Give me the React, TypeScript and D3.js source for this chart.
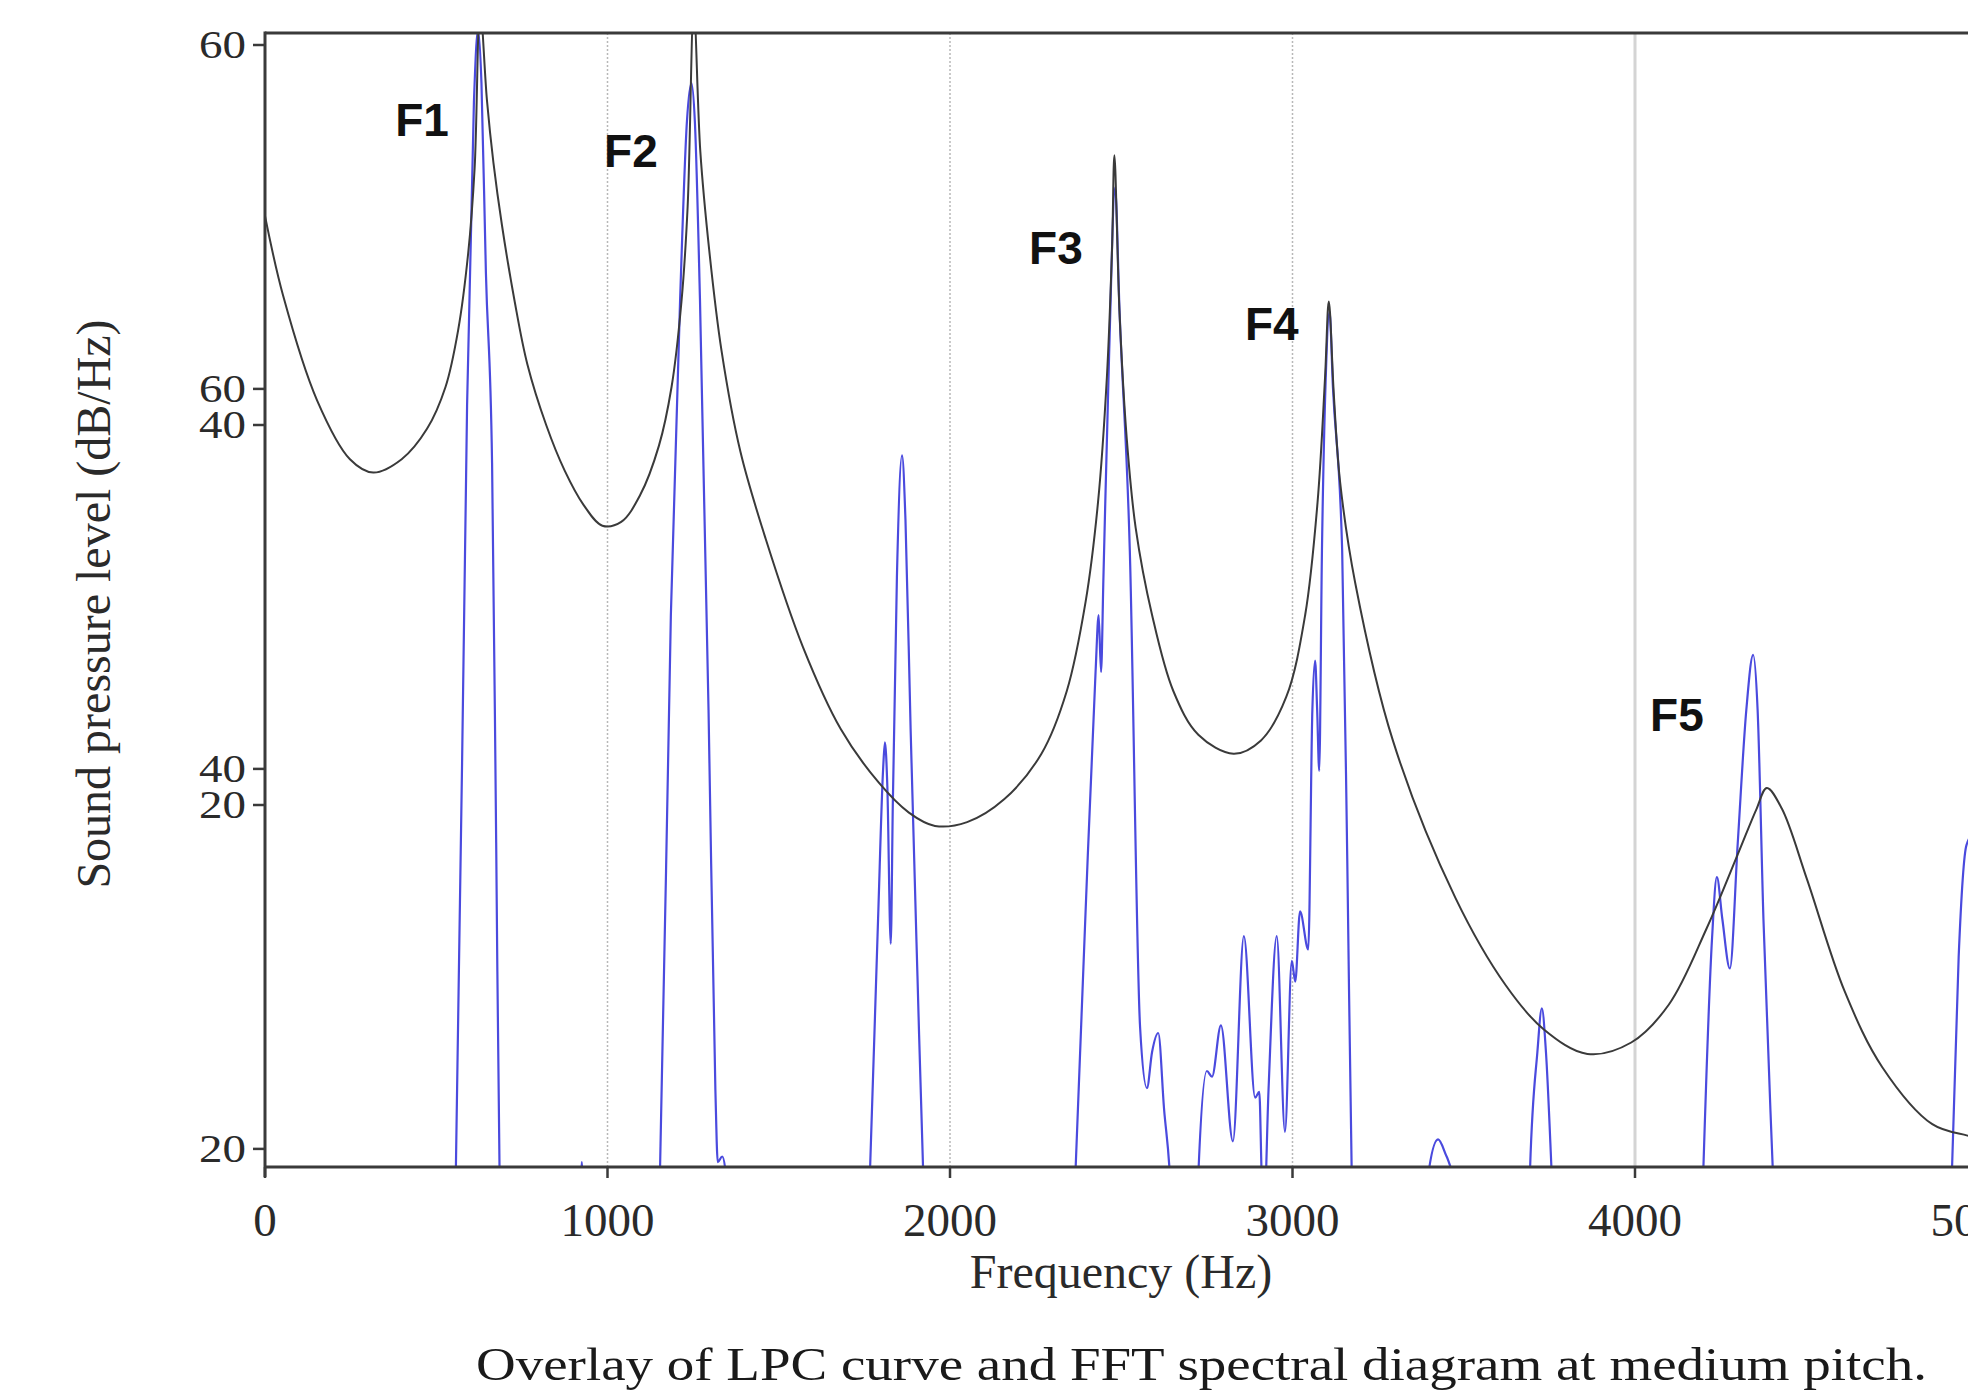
import React from 'react'
import * as d3 from 'd3'

// LPC envelope (Hz, dB)
const lpcFreq = [0, 53, 152, 248, 316, 399, 473, 527, 564, 593, 612, 628, 648, 667, 692, 729, 766, 821, 875, 930, 985, 1040, 1095, 1150, 1187, 1216, 1234, 1252, 1271, 1297, 1333, 1388, 1462, 1571, 1681, 1791, 1880, 1956, 2050, 2158, 2267, 2341, 2396, 2432, 2458, 2473, 2480, 2495, 2516, 2542, 2590, 2652, 2725, 2828, 2908, 2982, 3037, 3073, 3095, 3106, 3121, 3139, 3183, 3293, 3476, 3623, 3733, 3861, 3989, 4099, 4209, 4300, 4355, 4385, 4429, 4502, 4612, 4722, 4868, 4971, 5050]
const lpcDb = [51.0, 46.8, 41.3, 38.2, 37.5, 38.2, 39.8, 42.0, 45.0, 49.0, 53.5, 62, 57.1, 53.8, 50.5, 46.5, 43.2, 40.0, 37.6, 35.8, 34.7, 34.9, 36.3, 38.9, 42.0, 46.5, 51.5, 62, 54.4, 49.2, 43.9, 38.6, 34.0, 28.3, 24.0, 21.2, 19.6, 18.9, 19.1, 20.3, 22.7, 26.0, 30.7, 35.9, 42.5, 49.2, 54.2, 45.9, 39.3, 34.6, 30.0, 26.0, 23.7, 22.7, 23.4, 25.7, 30.0, 35.9, 42.5, 46.5, 41.5, 37.0, 31.7, 23.4, 15.1, 10.5, 8.2, 6.9, 7.5, 9.5, 13.5, 17.4, 19.8, 20.9, 19.8, 16.1, 10.2, 6.2, 3.2, 2.6, 2.3]

// FFT spectrum (Hz, dB), values below the axis are clipped
const fftFreq = [0, 540, 557, 590, 610, 622, 632, 645, 663, 675, 685, 700, 915, 925, 935, 1140, 1153, 1185, 1212, 1232, 1245, 1255, 1270, 1295, 1315, 1322, 1335, 1344, 1355, 1755, 1766, 1790, 1805, 1810, 1817, 1827, 1833, 1845, 1860, 1870, 1885, 1905, 1922, 1935, 2355, 2366, 2395, 2425, 2434, 2441, 2448, 2465, 2482, 2495, 2525, 2555, 2575, 2590, 2608, 2625, 2642, 2655, 2715, 2725, 2750, 2765, 2791, 2826, 2858, 2891, 2903, 2910, 2916, 2930, 2954, 2978, 2998, 3008, 3022, 3046, 3058, 3066, 3072, 3078, 3086, 3098, 3108, 3118, 3145, 3160, 3173, 3185, 3385, 3396, 3425, 3450, 3480, 3490, 3500, 3685, 3693, 3715, 3728, 3740, 3757, 3770, 4190, 4199, 4225, 4239, 4255, 4277, 4300, 4325, 4345, 4358, 4375, 4403, 4415, 4910, 4925, 4945, 4968, 4990, 5050]
const fftDb = [-5, -5, 0.5, 41, 57, 60.8, 58, 48, 38, 18, 0.5, -5, -5, 1.2, -5, -5, 0.5, 30, 46.6, 56, 58, 56, 46.6, 25, 5, 1.2, 1.5, 0.8, -5, -5, 0.5, 14, 22, 23.3, 21, 12.7, 20, 32, 38.4, 35, 24, 11, 0.5, -5, -5, 0.5, 14, 27, 30, 27, 32, 44, 52.5, 46, 33.4, 8.3, 5.1, 7, 8, 4, 0.5, -5, -5, 0.5, 6, 5.7, 8.4, 2.3, 13.1, 4.6, 4.9, 0.5, -2, 5, 13.1, 2.8, 11.8, 10.7, 14.4, 12.4, 25, 27.6, 25, 21.8, 33.4, 43, 46, 42, 33.4, 17, 0.5, -5, -5, 0.5, 2.4, 1.5, 0.3, 0.8, -5, -5, 0.5, 7, 9.3, 7, 0.5, -5, -5, 0.5, 13, 16.2, 14, 11.4, 18, 25, 27.9, 25, 14, 0.5, -5, -5, 0.5, 12, 17.9, 18.5, 18]

const xTicks = [0, 1000, 2000, 3000, 4000, 5000]
const gridTicks = [1000, 2000, 3000, 4000]
const yTicksA = [20, 40, 60]
const yTicksB = [20, 40, 60]
const overlayOffset = 18.1 // second overlaid panel is shifted down by this many dB

const formantLabels = ['F1', 'F2', 'F3', 'F4', 'F5']
const formantFreq = [380, 990, 2231, 2861, 4044]
const formantDb = [55.2, 53.6, 48.5, 44.5, 23.9]

const W = 1968
const H = 1391
const left = 265
const top = 33
const bottom = 1167

const serif = '"Liberation Serif", "Times New Roman", serif'
const sans = '"Liberation Sans", Arial, sans-serif'

export default function App() {
  const x = d3.scaleLinear().domain([0, 5000]).range([left, left + 5 * 342.5])
  const y = d3.scaleLinear().domain([20, 60]).range([805, 45])

  const lpcPath = d3.line<number>()
    .x(i => x(lpcFreq[i]))
    .y(i => y(lpcDb[i]))
    .curve(d3.curveCatmullRom.alpha(0.5))(lpcFreq.map((_, i) => i))

  const fftPath = d3.line<number>()
    .x(i => x(fftFreq[i]))
    .y(i => y(fftDb[i]))
    .curve(d3.curveMonotoneX)(fftFreq.map((_, i) => i))

  const tickLabel = (t: number, yy: number, key: string) => (
    <g key={key}>
      <line x1={left - 12} x2={left} y1={yy} y2={yy} stroke="#3a3a3a" strokeWidth={2.5} />
      <text transform={`translate(246,${yy + 13}) scale(1,0.86)`} textAnchor="end" fontFamily={serif} fontSize={47} fill="#2a2a2a">{t}</text>
    </g>
  )

  return (
    <svg width={W} height={H} style={{ position: 'absolute', left: 0, top: 0, background: '#fff' }}>
      <defs>
        <clipPath id="plot-clip">
          <rect x={left} y={top} width={W - left} height={bottom - top} />
        </clipPath>
      </defs>

      {gridTicks.map(t => (
        <line key={t} x1={x(t)} x2={x(t)} y1={top} y2={bottom}
          stroke={t === 4000 ? '#d4d4d4' : '#b8b8b8'}
          strokeWidth={t === 4000 ? 3 : 1.5}
          strokeDasharray={t === 4000 ? undefined : '2,2'} />
      ))}

      <g clipPath="url(#plot-clip)">
        <path d={fftPath || ''} fill="none" stroke="#4a4ade" strokeWidth={2.2} />
        <path d={lpcPath || ''} fill="none" stroke="#3a3a3a" strokeWidth={2} />
      </g>

      {/* frame */}
      <line x1={left} x2={W} y1={top} y2={top} stroke="#3a3a3a" strokeWidth={3} />
      <line x1={left} x2={W} y1={bottom} y2={bottom} stroke="#3a3a3a" strokeWidth={3} />
      <line x1={left} x2={left} y1={top - 1.5} y2={bottom + 10} stroke="#3a3a3a" strokeWidth={3} />

      {xTicks.map(t => (
        <g key={t}>
          <line x1={x(t)} x2={x(t)} y1={bottom} y2={bottom + 11} stroke="#3a3a3a" strokeWidth={2.5} />
          <text x={x(t)} y={1236} textAnchor="middle" fontFamily={serif} fontSize={47} fill="#2a2a2a">{t}</text>
        </g>
      ))}

      {yTicksA.map(t => tickLabel(t, y(t), 'a' + t))}
      {yTicksB.map(t => tickLabel(t, y(t - overlayOffset), 'b' + t))}

      {formantLabels.map((lab, i) => (
        <text key={lab} x={x(formantFreq[i])} y={y(formantDb[i])} fontFamily={sans} fontWeight="bold" fontSize={46} fill="#111">{lab}</text>
      ))}

      <text transform={`translate(110,604) rotate(-90)`} textAnchor="middle" fontFamily={serif} fontSize={48} fill="#2a2a2a">
        Sound pressure level (dB/Hz)
      </text>
      <text x={1121} y={1288} textAnchor="middle" fontFamily={serif} fontSize={48} fill="#2a2a2a">Frequency (Hz)</text>
      <text x={476} y={1380} textLength={1451} lengthAdjust="spacingAndGlyphs" fontFamily={serif} fontSize={46} fill="#1a1a1a">
        Overlay of LPC curve and FFT spectral diagram at medium pitch.
      </text>
    </svg>
  )
}
